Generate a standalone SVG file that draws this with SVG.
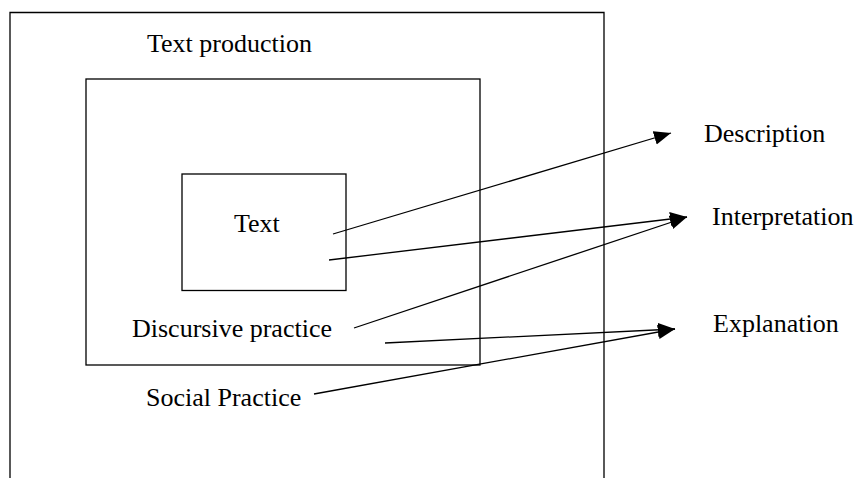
<svg xmlns="http://www.w3.org/2000/svg" width="859" height="478" viewBox="0 0 859 478">
<style>
.box{fill:none;stroke:#000;stroke-width:1.3}
.lbl{font-family:"Liberation Serif","Times New Roman",serif;font-size:26px;fill:#000}
.conn{fill:none;stroke:#000;stroke-width:1.3}
</style>
<defs>
<marker id="ah" markerUnits="userSpaceOnUse" markerWidth="18" markerHeight="15" refX="17" refY="7" orient="auto">
<path d="M0,0 L17,7 L0,14 z" fill="#000"/>
</marker>
</defs>
<rect width="859" height="478" fill="#fff"/>
<g id="social-practice">
<path class="box" d="M10,480 V12.5 H604 V480"/>
<text class="lbl" x="146" y="406">Social Practice</text>
</g>
<g id="text-production">
<text class="lbl" x="147" y="52">Text production</text>
</g>
<g id="discursive-practice">
<rect class="box" x="86" y="79" width="394" height="286"/>
<text class="lbl" x="132" y="337">Discursive practice</text>
</g>
<g id="text">
<rect class="box" x="182" y="174" width="164" height="116.5"/>
<text class="lbl" x="234" y="232">Text</text>
</g>
<g id="description">
<text class="lbl" x="704" y="142">Description</text>
</g>
<g id="interpretation">
<text class="lbl" x="712" y="225">Interpretation</text>
</g>
<g id="explanation">
<text class="lbl" x="713" y="332">Explanation</text>
</g>
<g id="connectors">
<line class="conn" x1="333" y1="234" x2="671" y2="133" marker-end="url(#ah)"/>
<line class="conn" x1="329" y1="260" x2="687" y2="217" marker-end="url(#ah)"/>
<line class="conn" x1="354" y1="328" x2="687" y2="217" marker-end="url(#ah)"/>
<line class="conn" x1="385" y1="343" x2="675" y2="329" marker-end="url(#ah)"/>
<line class="conn" x1="314" y1="394" x2="675" y2="329" marker-end="url(#ah)"/>
</g>
</svg>
